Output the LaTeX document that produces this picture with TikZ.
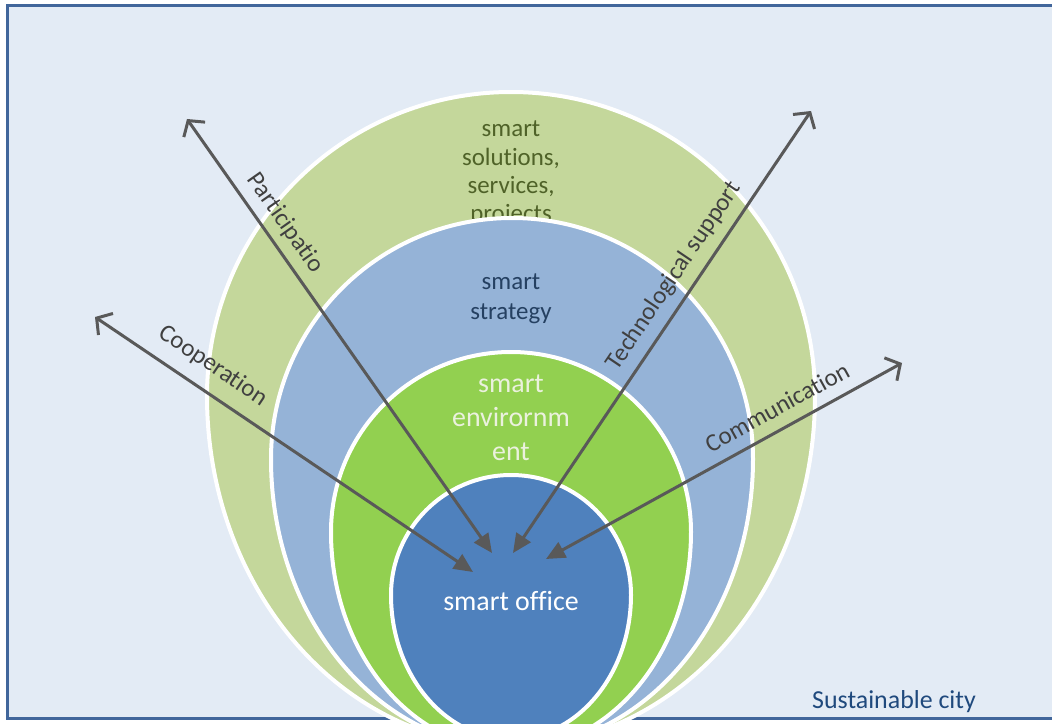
\documentclass[tikz,border=0pt]{standalone}
\usepackage{fontspec}
\setmainfont{Carlito}[Ligatures={NoCommon}]
\usetikzlibrary{arrows.meta}
\definecolor{bg}{HTML}{E3EBF5}
\definecolor{framec}{HTML}{41669B}
\definecolor{ringA}{HTML}{C4D79B}
\definecolor{ringB}{HTML}{95B3D7}
\definecolor{ringC}{HTML}{92D050}
\definecolor{core}{HTML}{4F81BD}
\definecolor{arrowc}{HTML}{595959}
\definecolor{txtA}{HTML}{4F6228}
\definecolor{txtB}{HTML}{254061}
\definecolor{txtC}{HTML}{EBF1DE}
\definecolor{txtD}{HTML}{1F497D}
\definecolor{lbl}{HTML}{404040}
\begin{document}
\begin{tikzpicture}[x=1bp,y=-1bp,
  ring/.style={fill=#1, draw=white, line width=4bp},
  flow/.style={draw=arrowc, line width=3bp,
    {Straight Barb[length=11bp,width=26bp]}-{Triangle[length=19bp,width=17bp]}},
  lab/.style={text=lbl, font=\fontsize{25}{30}\selectfont, inner sep=0pt},
  ringtext/.style={align=center, inner sep=0pt}]
\useasboundingbox (0,0) rectangle (1052,724);
\clip (0,0) rectangle (1052,724);
\fill[white] (0,0) rectangle (1052,724);
\filldraw[fill=bg, draw=framec, line width=3bp] (7,6) rectangle (1070,718);
% outer ring
\path[ring=ringA] (207,396) arc[start angle=180,end angle=360,radius=304]
  arc[start angle=0,end angle=180,x radius=304,y radius=350] -- cycle;
\node[ringtext, text=txtA, font=\fontsize{25}{28.5}\selectfont] (sol) at (511,173.5) {smart\\solutions,\\services,\\projects};
% strategy ring
\path[ring=ringB] (271,459) arc[start angle=180,end angle=360,radius=241]
  arc[start angle=0,end angle=180,x radius=241,y radius=289] -- cycle;
\node[ringtext, text=txtB, font=\fontsize{25}{30}\selectfont] (strat) at (511,299) {smart\\strategy};
% environment ring
\path[ring=ringC] (331,532) arc[start angle=180,end angle=360,radius=180]
  arc[start angle=0,end angle=180,x radius=180,y radius=218] -- cycle;
\node[ringtext, text=txtC, font=\fontsize{28}{34}\selectfont] (env) at (511,418) {smart\\envirornm\\ent};
% core
\path[ring=core] (391,595) arc[start angle=180,end angle=360,radius=120]
  arc[start angle=0,end angle=180,x radius=120,y radius=144] -- cycle;
\node[inner sep=0pt, anchor=base, text=white, font=\fontsize{28}{34}\selectfont] (office) at (511,610) {smart office};
% arrows
\coordinate (pOut) at (187,119); \coordinate (pIn) at (492,553);
\coordinate (cOut) at (95,317);  \coordinate (cIn) at (473,572);
\coordinate (tOut) at (811,111); \coordinate (tIn) at (513,553);
\coordinate (mOut) at (902,363); \coordinate (mIn) at (546,559);
\draw[flow] (pOut) -- (pIn);
\draw[flow] (cOut) -- (cIn);
\draw[flow] (tOut) -- (tIn);
\draw[flow] (mOut) -- (mIn);
\node[lab, rotate=-54.9] (lp) at (285,223) {Participatio};
\node[lab, rotate=-34] (lc) at (213,366) {Cooperation};
\node[lab, rotate=56] (lt) at (674,276) {Technological support};
\node[lab, rotate=28.8] (lm) at (777,407) {Communication};
\node[inner sep=0pt, anchor=base west, text=txtD, font=\fontsize{26}{30}\selectfont] (city) at (812,708) {Sustainable city};
\end{tikzpicture}
\end{document}
